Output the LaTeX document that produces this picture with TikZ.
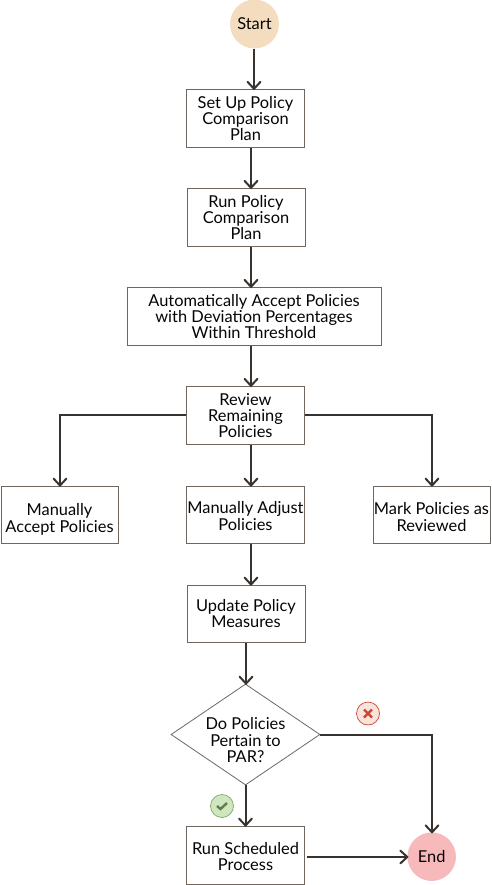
\documentclass[tikz,border=0pt]{standalone}
\usepackage{fontspec}
\setmainfont{Lato}
\usetikzlibrary{shapes.geometric,calc}
\definecolor{boxline}{HTML}{6F675F}
\definecolor{conn}{HTML}{38332F}
\definecolor{startfill}{HTML}{F4DDBF}
\definecolor{endfill}{HTML}{F7B9B9}
\definecolor{nofill}{HTML}{FBE3DC}
\definecolor{nomark}{HTML}{C74634}
\definecolor{yesfill}{HTML}{CFE6BE}
\definecolor{yesline}{HTML}{7FA868}
\definecolor{yesmark}{HTML}{5F7D4F}
\tikzset{
 every node/.style={font=\fontsize{16.4}{16}\selectfont,text=black!90!conn,align=center,inner sep=0pt},
 flowbox/.style={draw=boxline,line width=1pt,fill=white,minimum height=#1},
 flowbox/.default=58pt,
 term/.style={circle,minimum size=49pt},
 choice/.style={diamond,draw=boxline,line width=.8pt,minimum width=149pt,minimum height=101pt,aspect=1.475},
 flow/.style={draw=conn,line width=2pt},
 tip/.style={draw=conn,line width=2pt,line cap=round,line join=miter},
}
\newcommand{\headdown}[1]{\draw[tip] ($(#1)+(-6.5,-7)$) -- (#1) -- ($(#1)+(6.5,-7)$);}
\newcommand{\headright}[1]{\draw[tip] ($(#1)+(-7,-6.5)$) -- (#1) -- ($(#1)+(-7,6.5)$);}
% text block pushed down by half of #1
\newcommand{\lowered}[2]{\raisebox{0pt}[\dimexpr\height+#1\relax][\depth]{\begin{tabular}{@{}c@{}}#2\end{tabular}}}
\begin{document}
\begin{tikzpicture}[x=1pt,y=-1pt]
\useasboundingbox (0,0) rectangle (491,885);
\node[term,fill=startfill] (start) at (254.5,24) {Start};
\node[flowbox,minimum width=118pt] (b1) at (245.5,118.3) {Set Up Policy\\Comparison\\Plan};
\node[flowbox,minimum width=118pt] (b2) at (246,217.3) {Run Policy\\Comparison\\Plan};
\node[flowbox,minimum width=254pt] (b3) at (254,316.3) {Automatically Accept Policies\\with Deviation Percentages\\Within Threshold};
\node[flowbox,minimum width=118pt] (b4) at (245.5,415.3) {Review\\Remaining\\Policies};
\node[flowbox=57pt,minimum width=117pt] (b5) at (59.5,514.5) {\lowered{12pt}{Manually\\Accept Policies}};
\node[flowbox=57pt,minimum width=118pt] (b6) at (245.5,514.5) {\lowered{8pt}{Manually Adjust\\Policies}};
\node[flowbox=57pt,minimum width=117pt] (b7) at (431.5,514.5) {\lowered{10pt}{Mark Policies as\\Reviewed}};
\node[flowbox=57pt,minimum width=118pt] (b8) at (246,613.5) {Update Policy\\Measures};
\node[choice] (d) at (245.5,734.5) {\makebox[0pt]{\lowered{16pt}{Do Policies\\Pertain to\\PAR?}}};
\node[flowbox,minimum width=118pt] (b9) at (245.5,855) {\lowered{8pt}{Run Scheduled\\Process}};
\node[term,fill=endfill,minimum size=48.5pt] (end) at (431.7,856.7) {End};
% decision badges
\node[circle,draw=nomark,fill=nofill,line width=.7pt,minimum size=23pt] (no) at (368,713.5) {};
\draw[draw=nomark,line width=2.4pt] ($(no)+(-4,-4)$) -- ($(no)+(4,4)$) ($(no)+(-4,4)$) -- ($(no)+(4,-4)$);
\node[circle,draw=yesline,fill=yesfill,line width=.7pt,minimum size=23pt] (yes) at (222,806) {};
\draw[draw=yesmark,line width=2.4pt] ($(yes)+(-5,0)$) -- ($(yes)+(-1.5,3)$) -- ($(yes)+(5,-3)$);
% connectors
\coordinate (a1) at ($(start.south)+(-.5,0)$);
\coordinate (t1) at (a1 |- b1.north);
\draw[flow] (a1) -- (t1); \headdown{t1}
\coordinate (a2) at ($(b1.south)+(5.5,0)$);
\coordinate (t2) at (a2 |- b2.north);
\draw[flow] (a2) -- (t2); \headdown{t2}
\coordinate (a3) at ($(b2.south)+(5,0)$);
\coordinate (t3) at (a3 |- b3.north);
\draw[flow] (a3) -- (t3); \headdown{t3}
\coordinate (a4) at ($(b3.south)+(-3,0)$);
\coordinate (t4) at (a4 |- b4.north);
\draw[flow] (a4) -- (t4); \headdown{t4}
\coordinate (a5) at ($(b4.south)+(5.5,0)$);
\coordinate (t5) at (a5 |- b6.north);
\draw[flow] (a5) -- (t5); \headdown{t5}
\coordinate (t10) at ($(b5.north)+(.5,0)$);
\draw[flow] (b4.west) -| (t10); \headdown{t10}
\coordinate (t11) at ($(b7.north)+(.5,0)$);
\draw[flow] (b4.east) -| (t11); \headdown{t11}
\coordinate (a6) at ($(b6.south)+(5.5,0)$);
\coordinate (t6) at (a6 |- b8.north);
\draw[flow] (a6) -- (t6); \headdown{t6}
\coordinate (a7) at (b8.south);
\coordinate (t7) at (a7 |- d.north);
\draw[flow] (a7) -- (t7); \headdown{t7}
\coordinate (a8) at (d.south);
\coordinate (t8) at (a8 |- b9.north);
\draw[flow] (a8) -- (t8); \headdown{t8}
\coordinate (t12) at ($(end.north)+(.3,0)$);
\draw[flow] (d.east) -| (t12); \headdown{t12}
\coordinate (a9) at ($(b9.east)+(1.5,2)$);
\coordinate (t9) at (a9 -| end.west);
\draw[flow] (a9) -- (t9); \headright{t9}
\end{tikzpicture}
\end{document}
